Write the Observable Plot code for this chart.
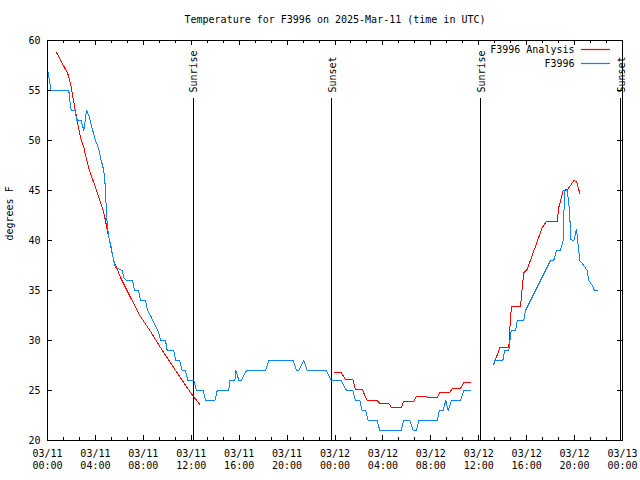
<!DOCTYPE html>
<html><head><meta charset="utf-8">
<script src="https://cdn.jsdelivr.net/npm/d3@7"></script>
<script src="https://cdn.jsdelivr.net/npm/@observablehq/plot@0.6"></script>
<style>html,body{margin:0;padding:0;background:#fff;}</style>
</head><body><div id="chart"></div>
<script>
const title = "Temperature for F3996 on 2025-Mar-11 (time in UTC)";
const yLabel = "degrees F";
const startUTC = Date.UTC(2025, 2, 11);
const endUTC = Date.UTC(2025, 2, 13);

// Observations (F3996): hours since 03/11 00:00 UTC, temperature °F (null = gap)
const obsHours = [0,0.02,0.17,0.3,1.78,1.86,1.98,2.34,2.42,2.81,3.03,3.26,3.45,3.73,4.01,4.28,4.42,4.70,4.84,4.90,4.98,5.12,5.26,5.40,5.53,5.68,6.24,6.37,6.59,7.10,7.26,7.60,7.76,8.18,8.35,8.60,8.87,9.29,9.43,9.85,9.99,10.54,10.69,11.04,11.24,11.52,11.71,12.21,12.44,13.00,13.19,13.97,14.17,15.13,15.22,15.64,15.72,15.86,15.97,16.19,16.61,18.20,18.47,20.51,20.79,20.98,21.40,21.68,23.29,23.68,24.52,24.96,25.49,25.71,26.07,26.27,26.55,26.77,27.52,27.74,29.53,29.74,30.24,30.53,30.80,31.00,32.53,32.72,33.03,33.25,33.45,33.73,34.48,34.75,35.31,35.8,37.24,37.35,38.01,38.17,38.51,38.60,38.71,39.07,39.21,39.76,39.90,40.95,41.99,42.26,42.49,42.82,43.05,43.16,43.38,43.46,43.60,43.66,43.94,44.16,44.30,44.44,44.77,45.05,45.19,45.47,45.66,45.94];
const obsTemps = [55,57,56,55,55,54,53,53,52,52,51,53,52.5,51.2,50,49.2,48.3,47,45.2,43.2,41.7,40.3,39.7,38.7,38,37.3,37,36.3,36,36,35,35,34,34,33,32.5,31.8,30.8,30,30,29,29,28,28,27,27,26,26,25,25,24,24,25,25,26,26,27,26.5,26,26,27,27,28,28,27,27,28,27,27,26,26,25,25,24,24,23,23,22,22,21,21,22,22,21,21,22,22,23,23,24,23,24,24,25,25,null,27.6,28,28,29,29,30,31,31,32,32,33,35.5,38,38,39,39,40,45,45,44.3,42.7,40.1,40,41.1,39.5,38,37.5,37,36,35.5,35,35];

// Analysis (F3996 Analysis)
const anaHours = [0.75,1.69,1.92,2.20,2.48,2.75,3.03,3.45,4.15,4.70,5.12,5.53,6.09,6.93,7.76,8.60,9.43,10.69,11.94,12.71,18,23.96,24.52,24.88,25.49,25.71,26.27,26.69,27.52,27.74,28.49,28.72,29.53,29.74,30.58,30.78,31.64,31.70,32.53,32.75,33.58,33.78,34.48,34.75,35.31,36,37.26,37.76,38.51,38.60,38.73,39.49,39.63,39.76,40.04,41.30,41.66,42.55,42.68,43.05,43.43,43.94,44.16,44.44];
const anaTemps = [58.8,56.7,55.7,53.8,52,50.3,49.3,47.2,44.8,42.8,40.3,38,36.3,34.3,32.4,30.9,29.3,27,24.8,23.6,null,26.8,26.8,26.1,26.1,25.1,25.1,24,24,23.7,23.7,23.3,23.3,23.9,23.9,24.4,24.4,24.3,24.3,24.8,24.8,25.2,25.2,25.8,25.8,null,27.6,29.3,29.3,31.3,33.4,33.4,35.3,36.8,37.1,41.3,41.9,41.9,43.3,45,45.1,46,45.9,44.7];

const eventHours = [12.17, 23.7, 36.13, 47.83];
const eventLabels = ["Sunrise", "Sunset", "Sunrise", "Sunset"];
const seriesNames = ["F3996 Analysis", "F3996"];
const seriesColors = ["#ff0000", "#0a84ff"];
const yTicks = [20, 25, 30, 35, 40, 45, 50, 55, 60];
const majorStepHours = 4;
const minorStepHours = 4 / 3;

const toDate = h => new Date(startUTC + h * 3600000);
const obs = obsHours.map((h, i) => ({t: toDate(h), v: obsTemps[i]}));
const ana = anaHours.map((h, i) => ({t: toDate(h), v: anaTemps[i]}));
const events = eventHours.map((h, i) => ({t: toDate(h), label: eventLabels[i]}));
const majors = d3.range(0, 48.001, majorStepHours).map(toDate);
const minors = d3.range(0, 48.001, minorStepHours).map(toDate);

const W = 640, H = 480, mL = 47, mR = 18, mT = 40, mB = 40;
const fw = W - mL - mR, fh = H - mT - mB;
const crisp = {shapeRendering: "crispEdges"};

const chart = Plot.plot({
  width: W, height: H,
  marginLeft: mL, marginRight: mR, marginTop: mT, marginBottom: mB,
  style: {fontFamily: "DejaVu Sans Mono, monospace", fontSize: "10px", background: "#fff", color: "#000"},
  x: {type: "utc", domain: [new Date(startUTC), new Date(endUTC)]},
  y: {domain: [20, 60]},
  marks: [
    // tick marks (inward, mirrored)
    Plot.tickX(majors, {x: d => d, insetTop: fh - 5, stroke: "#000", ...crisp}),
    Plot.tickX(majors, {x: d => d, insetBottom: fh - 5, stroke: "#000", ...crisp}),
    Plot.tickX(minors, {x: d => d, insetTop: fh - 3, stroke: "#000", ...crisp}),
    Plot.tickX(minors, {x: d => d, insetBottom: fh - 3, stroke: "#000", ...crisp}),
    Plot.tickY(yTicks, {y: d => d, insetRight: fw - 5, stroke: "#000", ...crisp}),
    Plot.tickY(yTicks, {y: d => d, insetLeft: fw - 5, stroke: "#000", ...crisp}),
    Plot.axisX({ticks: majors, tickSize: 0, tickPadding: 8, lineHeight: 1.2,
      tickFormat: d3.utcFormat("%m/%d\n%H:%M"), label: null, fill: "#000"}),
    Plot.axisY({ticks: yTicks, tickSize: 0, tickPadding: 7, label: null, fill: "#000"}),
    // sunrise / sunset
    Plot.ruleX(events, {x: "t", insetTop: 58, stroke: "#000", ...crisp}),
    Plot.text(events, {x: "t", text: "label", frameAnchor: "top", dy: 52, dx: 1,
      rotate: -90, textAnchor: "start", lineAnchor: "middle", fill: "#000"}),
    // series
    Plot.line(ana, {x: "t", y: "v", stroke: seriesColors[0], strokeWidth: 1, ...crisp}),
    Plot.line(obs, {x: "t", y: "v", stroke: seriesColors[1], strokeWidth: 1, ...crisp}),
    Plot.frame({stroke: "#000", ...crisp}),
    // legend labels
    Plot.text([seriesNames[0]], {frameAnchor: "top-right", dx: -48, dy: 9, textAnchor: "end", lineAnchor: "middle", fill: "#000"}),
    Plot.text([seriesNames[1]], {frameAnchor: "top-right", dx: -48, dy: 23, textAnchor: "end", lineAnchor: "middle", fill: "#000"}),
    // title and y label
    Plot.text([title], {frameAnchor: "top", dy: -21, lineAnchor: "middle", fill: "#000"}),
    Plot.text([yLabel], {frameAnchor: "left", dx: -38, rotate: -90, fill: "#000"})
  ]
});

// legend line samples, placed relative to the plot frame
const svg = d3.select(chart);
seriesColors.forEach((c, i) => {
  svg.append("line")
    .attr("x1", W - mR - 41).attr("x2", W - mR - 12)
    .attr("y1", mT + 9.5 + 14 * i).attr("y2", mT + 9.5 + 14 * i)
    .attr("stroke", c).attr("stroke-width", 1.2);
});
document.getElementById("chart").appendChild(chart);
</script>
</body></html>
